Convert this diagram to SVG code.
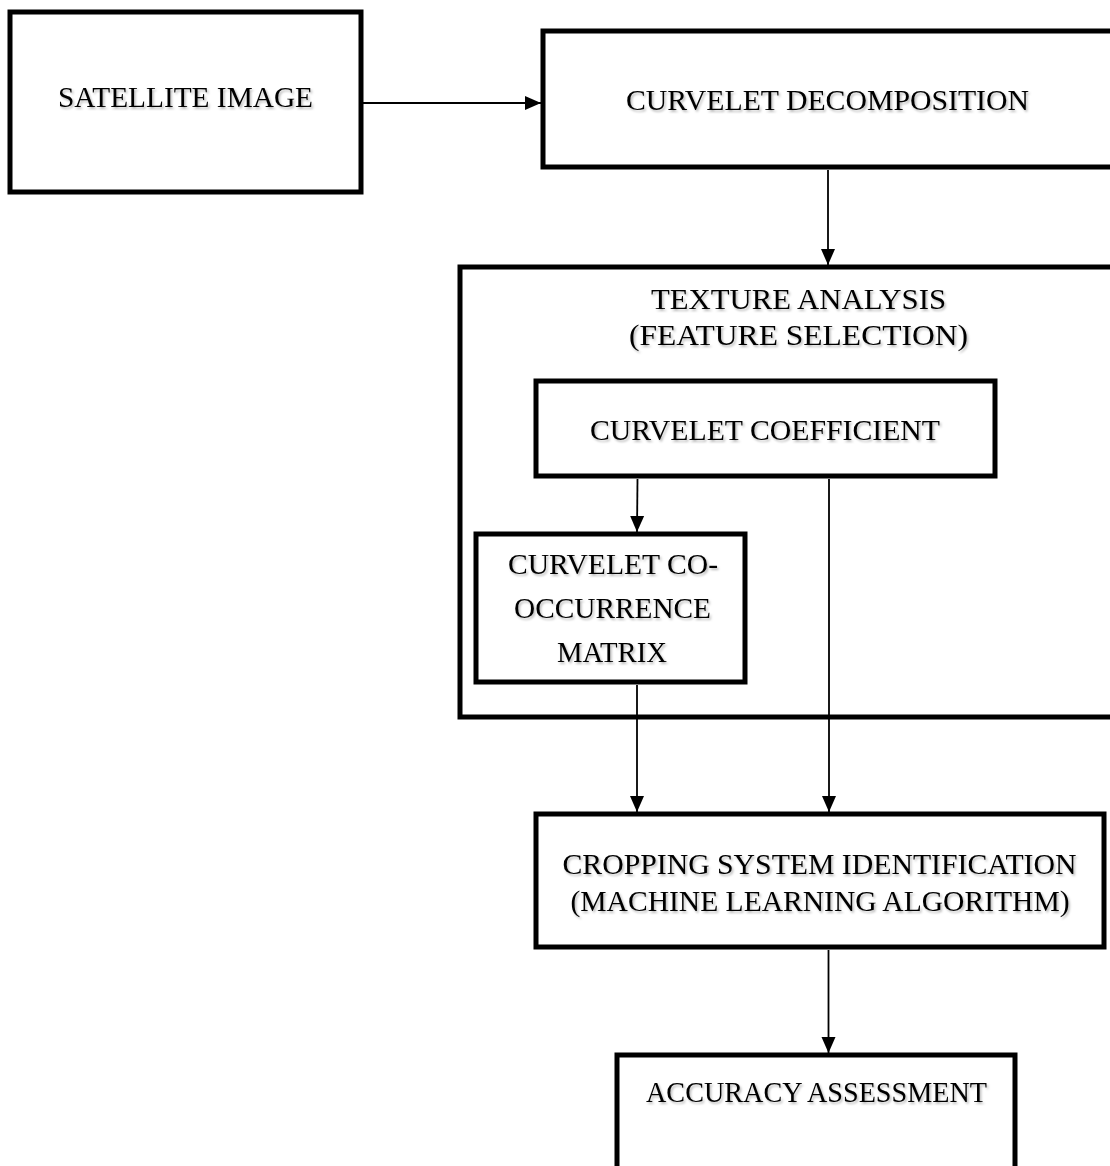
<svg xmlns="http://www.w3.org/2000/svg" width="1110" height="1166" viewBox="0 0 1110 1166">
  <style>
    .box { fill: #ffffff; stroke: #000000; stroke-width: 5; stroke-linejoin: miter; }
    .lbl { font-family: "Liberation Serif", "Times New Roman", serif; font-size: 28.5px; fill: #000000; text-anchor: middle; filter: url(#shadow); }
    .conn { stroke: #000000; stroke-width: 1.8; fill: none; marker-end: url(#arrow); }
  </style>
  <defs>
    <filter id="shadow" x="-10%" y="-30%" width="120%" height="160%">
      <feDropShadow dx="1.5" dy="2" stdDeviation="1.2" flood-color="#000000" flood-opacity="0.28"/>
    </filter>
    <marker id="arrow" markerUnits="userSpaceOnUse" markerWidth="17" markerHeight="15" refX="16" refY="7.5" orient="auto">
      <path d="M0,0.5 L16,7.5 L0,14.5 Z" fill="#000000"/>
    </marker>
  </defs>
  <rect x="0" y="0" width="1110" height="1166" fill="#ffffff"/>

  <g id="satellite-image">
    <rect class="box" x="10" y="12" width="351" height="180"/>
    <text class="lbl" x="185.5" y="107" textLength="255" lengthAdjust="spacingAndGlyphs">SATELLITE IMAGE</text>
  </g>

  <g id="curvelet-decomposition">
    <rect class="box" x="543" y="31" width="620" height="136"/>
    <text class="lbl" x="827.5" y="110" textLength="403" lengthAdjust="spacingAndGlyphs">CURVELET DECOMPOSITION</text>
  </g>

  <g id="texture-analysis">
    <rect class="box" x="460" y="267" width="700" height="450"/>
    <text class="lbl" x="798.5" y="309" textLength="295" lengthAdjust="spacingAndGlyphs">TEXTURE ANALYSIS</text>
    <text class="lbl" x="798.5" y="345" textLength="339" lengthAdjust="spacingAndGlyphs">(FEATURE SELECTION)</text>
  </g>

  <g id="curvelet-coefficient">
    <rect class="box" x="536" y="381" width="459" height="95"/>
    <text class="lbl" x="765" y="440" textLength="350" lengthAdjust="spacingAndGlyphs">CURVELET COEFFICIENT</text>
  </g>

  <g id="co-occurrence-matrix">
    <rect class="box" x="476" y="534" width="269" height="148"/>
    <text class="lbl" x="613" y="574" textLength="210" lengthAdjust="spacingAndGlyphs">CURVELET CO-</text>
    <text class="lbl" x="612.5" y="618" textLength="197" lengthAdjust="spacingAndGlyphs">OCCURRENCE</text>
    <text class="lbl" x="612" y="662" textLength="110" lengthAdjust="spacingAndGlyphs">MATRIX</text>
  </g>

  <g id="cropping-system-identification">
    <rect class="box" x="536" y="814" width="568" height="133"/>
    <text class="lbl" x="819.5" y="874" textLength="514" lengthAdjust="spacingAndGlyphs">CROPPING SYSTEM IDENTIFICATION</text>
    <text class="lbl" x="820" y="911" textLength="499" lengthAdjust="spacingAndGlyphs">(MACHINE LEARNING ALGORITHM)</text>
  </g>

  <g id="accuracy-assessment">
    <rect class="box" x="617" y="1055" width="398" height="200"/>
    <text class="lbl" x="816.5" y="1102" textLength="341" lengthAdjust="spacingAndGlyphs">ACCURACY ASSESSMENT</text>
  </g>

  <g id="connectors">
    <line class="conn" x1="363" y1="103" x2="541" y2="103"/>
    <line class="conn" x1="828" y1="170" x2="828" y2="265"/>
    <line class="conn" x1="637.5" y1="479" x2="637" y2="532"/>
    <line class="conn" x1="637" y1="685" x2="637" y2="812"/>
    <line class="conn" x1="829" y1="479" x2="829" y2="812"/>
    <line class="conn" x1="828.5" y1="950" x2="828.5" y2="1053"/>
  </g>
</svg>
